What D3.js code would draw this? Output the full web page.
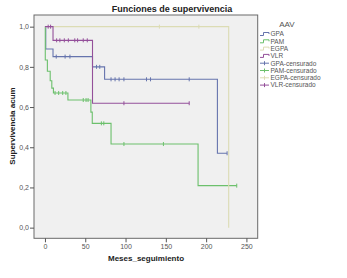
<!DOCTYPE html>
<html>
<head>
<meta charset="utf-8">
<script src="https://cdn.jsdelivr.net/npm/d3@7"></script>
<style>
  body { margin: 0; background: #fff; }
  text { font-family: "Liberation Sans", Arial, sans-serif; }
</style>
</head>
<body>
<div id="chart"></div>
<script>
// Kaplan-Meier curves per group: event times, survival after each event, censored times
const groups = ["GPA", "PAM", "EGPA", "VLR"];
const colors = ["#6674ad", "#6cc06c", "#dcdcb4", "#94509a"];

const gpaTimes = [1, 10, 59, 74, 214];
const gpaSurv = [0.889, 0.851, 0.80, 0.738, 0.37];
const gpaCens = [14, 25, 31, 64, 68, 82, 87, 92, 98, 126, 131, 179, 226];

const pamTimes = [0.4, 3, 6.5, 8.5, 10.5, 28.5, 57, 58.7, 82, 190];
const pamSurv = [0.834, 0.778, 0.731, 0.694, 0.67, 0.635, 0.575, 0.519, 0.416, 0.209];
const pamCens = [12.5, 17, 22, 26, 47.5, 51, 53.5, 70, 73, 98, 147, 238];

const egpaTimes = [228];
const egpaSurv = [0];
const egpaCens = [142, 191];

const vlrTimes = [10, 59];
const vlrSurv = [0.932, 0.619];
const vlrCens = [4, 7, 14.5, 18.5, 24, 29, 37, 40.5, 47.5, 52.5, 98, 179];

const xTicks = [0, 50, 100, 150, 200, 250];
const yTicks = [0, 0.2, 0.4, 0.6, 0.8, 1.0];

const series = [
    { name: "GPA", times: gpaTimes, surv: gpaSurv, cens: gpaCens },
    { name: "PAM", times: pamTimes, surv: pamSurv, cens: pamCens },
    { name: "EGPA", times: egpaTimes, surv: egpaSurv, cens: egpaCens },
    { name: "VLR", times: vlrTimes, surv: vlrSurv, cens: vlrCens }
];

const width = 347;
const height = 278;
const box = { left: 34, right: 257.7, top: 15, bottom: 238.3 };

const svg = d3.select("#chart")
    .append("svg")
    .attr("width", width)
    .attr("height", height);

const x = d3.scaleLinear().domain([-13.6, 264]).range([box.left, box.right]);
const y = d3.scaleLinear().domain([-0.053, 1.058]).range([box.bottom, box.top]);

// plot background
svg.append("rect")
    .attr("x", box.left)
    .attr("y", box.top)
    .attr("width", box.right - box.left)
    .attr("height", box.bottom - box.top)
    .attr("fill", "#f0f0f0")
    .attr("stroke", "#6a6a6a")
    .attr("stroke-width", 1);

// axes
const xAxis = svg.append("g")
    .attr("transform", `translate(0,${box.bottom})`)
    .call(d3.axisBottom(x).tickValues(xTicks).tickSize(4).tickPadding(2).tickFormat(d3.format("d")));
const yAxis = svg.append("g")
    .attr("transform", `translate(${box.left},0)`)
    .call(d3.axisLeft(y).tickValues(yTicks).tickSize(4).tickPadding(1)
        .tickFormat(d => d3.format(".1f")(d).replace(".", ",")));

[xAxis, yAxis].forEach(g => {
    g.select(".domain").remove();
    g.selectAll(".tick line").attr("stroke", "#555");
    g.selectAll(".tick text")
        .attr("fill", "#555")
        .style("font-size", "7px");
});

// survival step lines
const line = d3.line()
    .x(d => x(d[0]))
    .y(d => y(d[1]))
    .curve(d3.curveStepAfter);

function survAt(s, t) {
    let v = 1;
    s.times.forEach((tt, i) => { if (tt <= t) v = s.surv[i]; });
    return v;
}

series.forEach((s, i) => {
    const pts = [[0, 1]];
    s.times.forEach((t, j) => pts.push([t, s.surv[j]]));
    const end = Math.max(d3.max(s.times), d3.max(s.cens));
    pts.push([end, survAt(s, end)]);

    svg.append("path")
        .datum(pts)
        .attr("d", line)
        .attr("fill", "none")
        .attr("stroke", colors[i])
        .attr("stroke-width", 1.1);

    svg.selectAll(".cens-" + s.name)
        .data(s.cens)
        .enter().append("line")
        .attr("x1", d => x(d))
        .attr("x2", d => x(d))
        .attr("y1", d => y(survAt(s, d)) - 2)
        .attr("y2", d => y(survAt(s, d)) + 2)
        .attr("stroke", colors[i])
        .attr("stroke-width", 1);
});

// title and axis labels
svg.append("text")
    .attr("x", 172)
    .attr("y", 11.5)
    .attr("text-anchor", "middle")
    .style("font-size", "9px")
    .style("font-weight", "bold")
    .attr("fill", "#222")
    .text("Funciones de supervivencia");

svg.append("text")
    .attr("x", 146)
    .attr("y", 261)
    .attr("text-anchor", "middle")
    .style("font-size", "8px")
    .style("font-weight", "bold")
    .attr("fill", "#222")
    .text("Meses_seguimiento");

svg.append("text")
    .attr("transform", "translate(15,126) rotate(-90)")
    .attr("text-anchor", "middle")
    .style("font-size", "8px")
    .style("font-weight", "bold")
    .attr("fill", "#222")
    .text("Supervivencia acum");

// legend
svg.append("text")
    .attr("x", 287)
    .attr("y", 27)
    .attr("text-anchor", "middle")
    .style("font-size", "8px")
    .attr("fill", "#555")
    .text("AAV");

const legend = svg.append("g").attr("transform", "translate(260,34)");
const rowH = 7.3;

groups.forEach((g, i) => {
    const yy = i * rowH;
    legend.append("path")
        .attr("d", `M0,${yy + 1.5}H3.5V${yy - 1.5}H9V${yy}`)
        .attr("fill", "none")
        .attr("stroke", colors[i])
        .attr("stroke-width", 1);
    legend.append("text")
        .attr("x", 10.5)
        .attr("y", yy + 2.3)
        .style("font-size", "6.5px")
        .attr("fill", "#555")
        .text(g);
});

groups.forEach((g, i) => {
    const yy = (i + 4) * rowH;
    legend.append("path")
        .attr("d", `M0,${yy}H9M4.5,${yy - 2}V${yy + 2}`)
        .attr("fill", "none")
        .attr("stroke", colors[i])
        .attr("stroke-width", 1);
    legend.append("text")
        .attr("x", 10.5)
        .attr("y", yy + 2.3)
        .style("font-size", "6.5px")
        .attr("fill", "#555")
        .text(g + "-censurado");
});
</script>
</body>
</html>
